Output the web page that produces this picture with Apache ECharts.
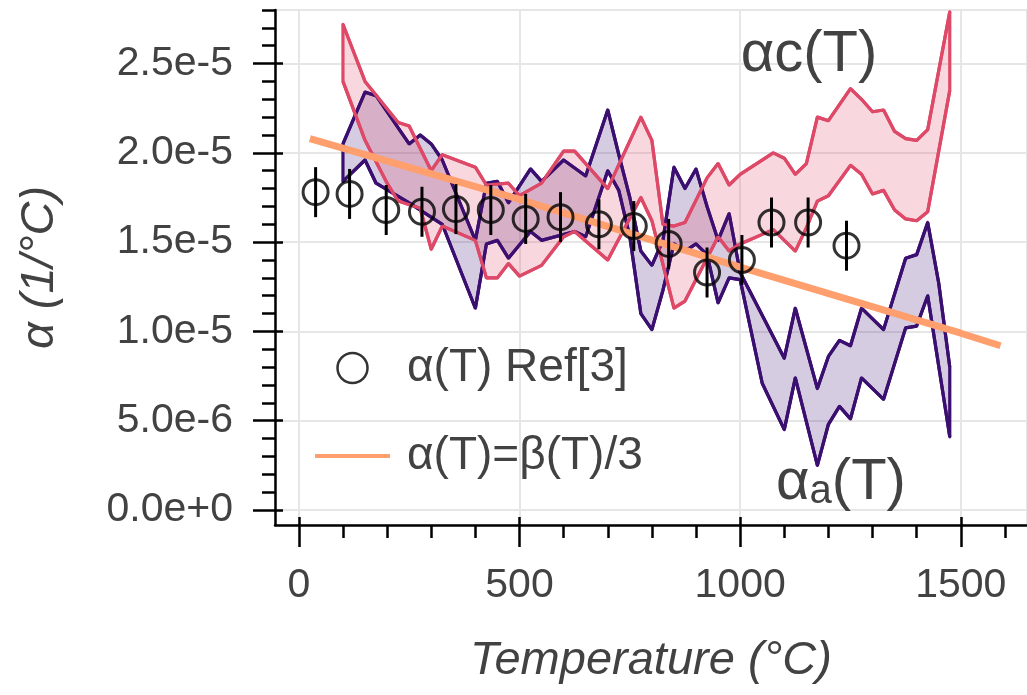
<!DOCTYPE html>
<html lang="en">
<head>
  <meta charset="UTF-8">
  <title>Thermal expansion coefficient</title>
  <style>
    html, body { margin: 0; padding: 0; background: #fff; }
    #chart { width: 1027px; height: 695px; }
  </style>
</head>
<body>
  <div id="chart"></div>
  <script src="https://cdn.jsdelivr.net/npm/echarts@6.0.0/dist/echarts.min.js"></script>
  <script>
    // alpha(T) from Ref[3], with error bars
    const refT = [38, 115, 198, 279, 356, 435, 514, 593, 680, 759, 838, 925, 1004, 1071, 1154, 1241]
    const refAlpha = [17.8e-6, 17.7e-6, 16.8e-6, 16.7e-6, 16.85e-6, 16.8e-6, 16.3e-6, 16.4e-6,
      16.0e-6, 15.9e-6, 14.9e-6, 13.3e-6, 14.0e-6, 16.1e-6, 16.1e-6, 14.8e-6]
    const refErr = [1.4e-6, 1.4e-6, 1.4e-6, 1.4e-6, 1.4e-6, 1.4e-6, 1.4e-6, 1.4e-6,
      1.4e-6, 1.4e-6, 1.4e-6, 1.4e-6, 1.4e-6, 1.4e-6, 1.4e-6, 1.4e-6]

    // alpha(T) = beta(T)/3
    const betaT = [25, 500, 1000, 1500, 1590]
    const betaAlpha = [20.8e-6, 17.4e-6, 13.6e-6, 9.9e-6, 9.2e-6]

    // alpha_c(T) band
    const cUpT = [100, 150, 225, 250, 300, 325, 400, 425, 475, 500, 550, 600, 625, 700, 775, 800, 825, 850, 875,
      925, 950, 975, 1000, 1075, 1100, 1125, 1150, 1175, 1200, 1250, 1275, 1300, 1325, 1350, 1375, 1400, 1425, 1475]
    const cUp = [27.2e-6, 24.0e-6, 21.7e-6, 21.5e-6, 19.0e-6, 19.9e-6, 19.2e-6, 18.2e-6, 18.3e-6, 17.6e-6,
      18.3e-6, 20.1e-6, 20.1e-6, 18.0e-6, 22.0e-6, 20.7e-6, 16.0e-6, 15.9e-6, 16.1e-6, 18.6e-6,
      19.4e-6, 18.2e-6, 18.8e-6, 20.0e-6, 19.7e-6, 18.8e-6, 19.4e-6, 22.0e-6, 21.8e-6, 23.6e-6,
      23.0e-6, 22.3e-6, 22.4e-6, 21.2e-6, 20.8e-6, 20.7e-6, 21.3e-6, 27.9e-6]
    const cLowT = [100, 150, 200, 225, 275, 300, 325, 400, 425, 450, 475, 500, 550, 600, 625, 700, 775, 800, 850,
      875, 950, 975, 1000, 1075, 1125, 1150, 1175, 1200, 1250, 1275, 1300, 1325, 1350, 1375, 1400, 1425, 1475]
    const cLow = [24.0e-6, 20.7e-6, 18.3e-6, 17.3e-6, 16.9e-6, 14.6e-6, 15.9e-6, 15.1e-6, 13.0e-6, 13.0e-6,
      13.8e-6, 13.1e-6, 13.7e-6, 15.3e-6, 15.6e-6, 14.0e-6, 17.5e-6, 16.2e-6, 11.3e-6, 11.7e-6,
      15.3e-6, 14.5e-6, 14.9e-6, 15.7e-6, 14.5e-6, 15.8e-6, 17.3e-6, 17.6e-6, 19.3e-6, 18.8e-6,
      17.7e-6, 17.9e-6, 16.8e-6, 16.3e-6, 16.2e-6, 16.7e-6, 23.5e-6]

    // alpha_a(T) band
    const aUpT = [100, 150, 175, 250, 275, 300, 325, 400, 425, 450, 475, 525, 550, 600, 650, 700, 725, 750, 775, 800,
      825, 850, 875, 900, 925, 950, 975, 1000, 1050, 1100, 1125, 1175, 1200, 1225, 1250, 1275, 1325, 1375, 1400,
      1425, 1450, 1475]
    const aUp = [20.5e-6, 23.4e-6, 23.2e-6, 20.5e-6, 21.0e-6, 20.5e-6, 19.6e-6, 15.1e-6, 18.3e-6, 18.4e-6,
      17.2e-6, 19.1e-6, 18.4e-6, 19.6e-6, 18.7e-6, 22.4e-6, 19.9e-6, 17.5e-6, 14.5e-6, 13.7e-6,
      15.1e-6, 19.2e-6, 18.0e-6, 19.1e-6, 17.0e-6, 15.1e-6, 16.6e-6, 13.3e-6, 10.9e-6, 8.5e-6,
      11.3e-6, 6.8e-6, 8.6e-6, 9.5e-6, 9.2e-6, 11.3e-6, 10.1e-6, 14.1e-6, 14.3e-6, 16.1e-6,
      12.7e-6, 8.0e-6]
    const aLowT = [100, 150, 175, 250, 325, 400, 425, 450, 475, 525, 550, 625, 650, 700, 725, 750, 775, 800, 825,
      850, 875, 900, 925, 950, 975, 1000, 1050, 1100, 1125, 1175, 1200, 1225, 1250, 1275, 1325, 1375, 1400, 1425, 1475]
    const aLow = [18.4e-6, 19.6e-6, 18.3e-6, 17.2e-6, 16.0e-6, 11.3e-6, 14.9e-6, 15.1e-6, 14.1e-6, 15.6e-6,
      15.1e-6, 15.6e-6, 15.3e-6, 19.0e-6, 17.9e-6, 15.3e-6, 11.0e-6, 10.1e-6, 12.3e-6, 14.9e-6,
      14.5e-6, 14.9e-6, 14.3e-6, 11.6e-6, 13.0e-6, 12.9e-6, 7.1e-6, 4.5e-6, 7.4e-6, 2.5e-6,
      4.8e-6, 5.8e-6, 5.1e-6, 7.4e-6, 6.2e-6, 10.2e-6, 10.3e-6, 12.0e-6, 4.1e-6]

    // ticks
    const xMajor = [0, 500, 1000, 1500]
    const xMinor = [0, 100, 200, 300, 400, 500, 600, 700, 800, 900, 1000, 1100, 1200, 1300, 1400, 1500, 1600]
    const yMajor = [0, 5e-6, 1e-5, 1.5e-5, 2e-5, 2.5e-5]
    const yMinor = Array.from({ length: 29 }, (_, i) => i * 1e-6)

    const FONT = 'Liberation Sans, Arial, sans-serif'
    const TEXT = '#424242'
    const PINK = '#de4968'
    const PURPLE = '#3b0f70'
    const ORANGE = '#fe9f6d'
    const X_MIN = -54, X_MAX = 1650, Y_MIN = -0.84e-6, Y_MAX = 28e-6

    const zip = (xs, ys) => xs.map((x, i) => [x, ys[i]])

    const cUpper = zip(cUpT, cUp), cLower = zip(cLowT, cLow)
    const aUpper = zip(aUpT, aUp), aLower = zip(aLowT, aLow)

    // filled polygon between the two edges, outlined so the ends are closed
    function band(upper, lower, fill, stroke) {
      return {
        type: 'custom',
        silent: true,
        z: 1,
        data: [0],
        renderItem: function (params, api) {
          const pts = upper.map(p => api.coord(p))
            .concat(lower.slice().reverse().map(p => api.coord(p)))
          return {
            type: 'polygon', shape: { points: pts },
            style: { fill: fill, stroke: stroke, lineWidth: 3.2, lineJoin: 'round' }
          }
        }
      }
    }

    function edge(data, color) {
      return {
        type: 'line', data: data, symbol: 'none', silent: true, z: 2,
        lineStyle: { color: color, width: 3.2 }
      }
    }

    // one grid for the main axes, one for minor ticks, one for inward major ticks
    const gridBox = { left: 275, right: -2, top: 10, bottom: 170 }
    const hidden = { axisLabel: { show: false }, splitLine: { show: false } }
    const noLine = { show: false, onZero: false }
    const tickStyle = { color: '#000', width: 2.5 }

    const myChart = echarts.init(document.getElementById('chart'))
    const option = {
      animation: false,
      grid: [
        Object.assign({ show: true, borderColor: '#e6e6e6', borderWidth: 2 }, gridBox),
        gridBox, gridBox
      ],
      xAxis: [
        {
          type: 'value', gridIndex: 0, min: X_MIN, max: X_MAX,
          axisLine: { onZero: false, lineStyle: { color: '#000', width: 2.5 } },
          axisTick: { customValues: xMajor, length: 22, lineStyle: tickStyle },
          axisLabel: {
            customValues: xMajor, margin: 40, fontSize: 41, color: TEXT, fontFamily: FONT,
            formatter: v => String(v)
          },
          splitLine: { show: true, lineStyle: { color: '#e6e6e6', width: 2 } },
          name: 'Temperature (°C)', nameLocation: 'middle', nameGap: 112,
          nameTextStyle: { fontSize: 47, fontStyle: 'italic', color: TEXT, fontFamily: FONT }
        },
        Object.assign({
          type: 'value', gridIndex: 1, min: X_MIN, max: X_MAX, axisLine: noLine,
          axisTick: { customValues: xMinor, length: 13, lineStyle: tickStyle }
        }, hidden),
        Object.assign({
          type: 'value', gridIndex: 2, min: X_MIN, max: X_MAX, axisLine: noLine,
          axisTick: { customValues: xMajor, inside: true, length: 8, lineStyle: tickStyle }
        }, hidden)
      ],
      yAxis: [
        {
          type: 'value', gridIndex: 0, min: Y_MIN, max: Y_MAX,
          axisLine: { show: true, onZero: false, lineStyle: { color: '#000', width: 2.5 } },
          axisTick: { show: true, customValues: yMajor, length: 22, lineStyle: tickStyle },
          axisLabel: {
            customValues: yMajor, margin: 42, fontSize: 41, color: TEXT, fontFamily: FONT,
            formatter: v => v.toExponential(1)
          },
          splitLine: { show: true, lineStyle: { color: '#e6e6e6', width: 2 } },
          name: 'α (1/°C)', nameLocation: 'middle', nameGap: 212,
          nameTextStyle: { fontSize: 47, fontStyle: 'italic', color: TEXT, fontFamily: FONT }
        },
        Object.assign({
          type: 'value', gridIndex: 1, min: Y_MIN, max: Y_MAX, axisLine: noLine,
          axisTick: { show: true, customValues: yMinor, length: 13, lineStyle: tickStyle }
        }, hidden),
        Object.assign({
          type: 'value', gridIndex: 2, min: Y_MIN, max: Y_MAX, axisLine: noLine,
          axisTick: { show: true, customValues: yMajor, inside: true, length: 8, lineStyle: tickStyle }
        }, hidden)
      ],
      legend: {
        orient: 'vertical', left: 310, top: 340,
        itemWidth: 75, itemHeight: 30, itemGap: 42,
        textStyle: { fontSize: 46, color: TEXT, fontFamily: FONT, padding: [0, 0, 0, 12] },
        data: [
          {
            name: 'α(T) Ref[3]', icon: 'circle',
            itemStyle: { color: 'rgba(0,0,0,0)', borderColor: '#000', borderWidth: 2.5 }
          },
          {
            name: 'α(T)=β(T)/3', icon: 'path://M0,0L75,0L75,4L0,4Z',
            itemStyle: { color: ORANGE, borderWidth: 0 }
          }
        ]
      },
      graphic: [
        {
          type: 'text', x: 809, y: 55, z: 100,
          style: {
            text: 'αc(T)', fill: TEXT, font: '58px ' + FONT,
            textAlign: 'center', textVerticalAlign: 'middle'
          }
        },
        {
          type: 'text', x: 841, y: 483, z: 100,
          style: {
            text: '{m|α}{s|a}{m|(T)}', fill: TEXT, fontFamily: FONT,
            textAlign: 'center', textVerticalAlign: 'middle',
            rich: {
              m: { fontSize: 58, fill: TEXT, fontFamily: FONT },
              s: { fontSize: 40, fill: TEXT, fontFamily: FONT, verticalAlign: 'bottom' }
            }
          }
        }
      ],
      series: [
        band(aUpper, aLower, 'rgba(59,15,112,0.21)', PURPLE),
        band(cUpper, cLower, 'rgba(222,73,104,0.22)', PINK),
        edge(aUpper, PURPLE),
        edge(aLower, PURPLE),
        edge(cUpper, PINK),
        edge(cLower, PINK),
        {
          name: 'α(T)=β(T)/3', type: 'line', data: zip(betaT, betaAlpha),
          symbol: 'none', z: 4, lineStyle: { color: ORANGE, width: 7 }
        },
        {
          type: 'custom', z: 5, silent: true,
          data: refT.map((t, i) => [t, refAlpha[i], refErr[i]]),
          encode: { x: 0, y: 1 },
          renderItem: function (params, api) {
            const x = api.value(0), y = api.value(1), e = api.value(2)
            const lo = api.coord([x, y - e]), hi = api.coord([x, y + e])
            return {
              type: 'line',
              shape: { x1: lo[0], y1: lo[1], x2: hi[0], y2: hi[1] },
              style: { stroke: '#000', lineWidth: 3 }
            }
          }
        },
        {
          name: 'α(T) Ref[3]', type: 'scatter', data: zip(refT, refAlpha), z: 6,
          symbol: 'circle', symbolSize: 25,
          itemStyle: { color: 'rgba(0,0,0,0)', borderColor: '#000', borderWidth: 3 }
        }
      ]
    }
    myChart.setOption(option)
  </script>
</body>
</html>
